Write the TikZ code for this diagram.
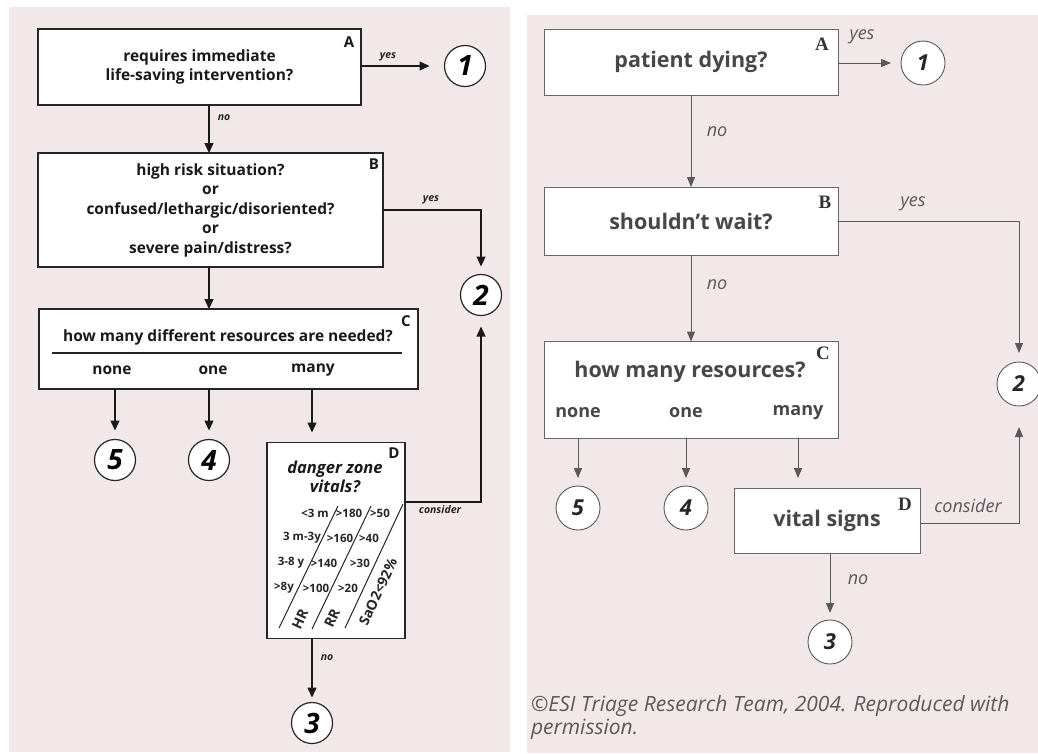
\documentclass[tikz,border=0pt]{standalone}
\usepackage{fontspec}
\setmainfont{Open Sans}
\newfontfamily\labfont{Liberation Serif}
\usetikzlibrary{arrows.meta}

\definecolor{panelbg}{RGB}{242,232,234}

\begin{document}
\begin{tikzpicture}[
	x = 1pt, y = -1pt,
	every node/.style = {inner sep = 0pt, outer sep = 0pt},
	lbox/.style = {draw = black!85, line width = 1.4pt, fill = white},
	ltext/.style = {font = \fontsize{15.5}{19.5}\selectfont\bfseries, align = center, text = black!90},
	lcap/.style = {font = \fontsize{15}{15}\selectfont\bfseries, text = black!90},
	lnote/.style = {font = \fontsize{10.5}{10.5}\selectfont\bfseries\itshape, text = black!85},
	lnum/.style = {circle, draw = black!85, line width = 1.2pt, fill = white, minimum size = 41pt, font = \fontsize{28}{28}\selectfont\bfseries\itshape},
	larr/.style = {draw = black!90, line width = 1.3pt, -{Triangle[length = 10pt, width = 9pt]}},
	lvit/.style = {font = \fontsize{11.5}{11.5}\selectfont\bfseries, text = black!85},
	lrot/.style = {font = \fontsize{14}{14}\selectfont\bfseries, text = black!85, rotate = 65},
	rbox/.style = {draw = black!60, line width = 1pt, fill = white},
	rtext/.style = {font = \fontsize{21.5}{21.5}\selectfont\bfseries, text = black!72},
	rcap/.style = {font = \labfont\fontsize{19}{19}\selectfont\bfseries, text = black!80},
	rnote/.style = {font = \fontsize{18}{18}\selectfont\itshape, text = black!65},
	rnum/.style = {circle, draw = black!65, line width = 0.9pt, fill = white, minimum size = 44pt, font = \fontsize{22}{22}\selectfont\bfseries\itshape, text = black!85},
	rarr/.style = {draw = black!65, line width = 1pt, -{Triangle[length = 10pt, width = 8pt]}}
	]

	\useasboundingbox (0,0) rectangle (1038,753);
	\fill[white] (0,0) rectangle (1038,753);
	\fill[panelbg] (9,7) rectangle (510,752);
	\fill[panelbg] (527,15) rectangle (1038,753);

	% left panel
	\node[lbox, ltext, minimum width = 323pt, minimum height = 76pt] (lA) at (199.5,67) {requires immediate\\life-saving intervention?};
	\node[lcap] (lAcap) at (349,42) {A};
	\node[lnum] (l1) at (465,66) {1};
	\node[lnote] (lAyes) at (388,57) {yes};
	\node[lnote] (lAno) at (224,118) {no};

	\node[lbox, ltext, minimum width = 345pt, minimum height = 114pt] (lB) at (210.5,210) {high risk situation?\\or\\confused/lethargic/disoriented?\\or\\severe pain/distress?};
	\node[lcap] (lBcap) at (374,164) {B};
	\node[lnum] (l2) at (481,295) {2};
	\node[lnote] (lByes) at (431,200) {yes};

	\node[lbox, minimum width = 379pt, minimum height = 80pt] (lC) at (228.5,349) {};
	\node[ltext] (lCq) at (228,337) {how many different resources are needed?};
	\node[lcap] (lCcap) at (406,321) {C};
	\node[ltext] (lnone) at (112,370) {none};
	\node[ltext] (lone) at (213,370) {one};
	\node[ltext] (lmany) at (313,370) {many};
	\draw[black!85, line width = 1.3pt] (52,353) -- (402,353);

	\node[lnum] (l5) at (115,460) {5};
	\node[lnum] (l4) at (209,460) {4};

	\node[lbox, minimum width = 138pt, minimum height = 196pt] (lD) at (336,540.5) {};
	\node[lcap] (lDcap) at (394,453) {D};
	\node[ltext, font = \fontsize{16.5}{18.5}\selectfont\bfseries\itshape] (lDq) at (335,477) {danger zone\\vitals?};
	\node[lvit] (lv11) at (315,513) {<3 m};
	\node[lvit] (lv12) at (349,513) {>180};
	\node[lvit] (lv13) at (380,513) {>50};
	\node[lvit] (lv21) at (302,538) {3 m-3y};
	\node[lvit] (lv22) at (340,538) {>160};
	\node[lvit] (lv23) at (369,538) {>40};
	\node[lvit] (lv31) at (291,563) {3-8 y};
	\node[lvit] (lv32) at (324,563) {>140};
	\node[lvit] (lv33) at (360,563) {>30};
	\node[lvit] (lv41) at (284,588) {>8y};
	\node[lvit] (lv42) at (316,588) {>100};
	\node[lvit] (lv43) at (348,588) {>20};
	\node[lrot] (lhr) at (300,619) {HR};
	\node[lrot] (lrr) at (332,618) {RR};
	\node[lrot] (lsao) at (378,592) {SaO2<92\%};
	\draw[black!85, line width = 1pt] (279,628) -- (338,506);
	\draw[black!85, line width = 1pt] (312,629) -- (371,506);
	\draw[black!85, line width = 1pt] (345,628) -- (403,504);

	\coordinate (lcons) at (406,502);
	\node[lnote] (lDcons) at (440,510) {consider};
	\node[lnum] (l3) at (312,723) {3};
	\node[lnote] (lDno) at (327,658) {no};

	\draw[larr, shorten > = 15pt] (lA.east |- l1) -- (l1);
	\draw[larr] (l4 |- lA.south) -- (l4 |- lB.north);
	\draw[larr, shorten > = 8pt] (lB.east) -| (l2);
	\draw[larr] (l4 |- lB.south) -- (l4 |- lC.north);
	\draw[larr, shorten > = 9pt] (l5 |- lC.south) -- (l5);
	\draw[larr, shorten > = 9pt] (l4 |- lC.south) -- (l4);
	\draw[larr, shorten > = 10pt] (l3 |- lC.south) -- (l3 |- lD.north);
	\draw[larr, shorten > = 11pt] (lcons) -| (l2);
	\draw[larr, shorten > = 5pt] (l3 |- lD.south) -- (l3);

	% right panel
	\node[rbox, rtext, minimum width = 294pt, minimum height = 66pt] (rA) at (691,62) {patient dying?};
	\node[rcap] (rAcap) at (822,44) {A};
	\node[rnum] (r1) at (923,63) {1};
	\node[rnote] (rAyes) at (862,37) {yes};
	\node[rnote] (rAno) at (717,132) {no};

	\node[rbox, rtext, minimum width = 294pt, minimum height = 68pt] (rB) at (691,221) {shouldn’t wait?};
	\node[rcap] (rBcap) at (825,202) {B};
	\node[rnote] (rByes) at (913,204) {yes};
	\node[rnote] (rBno) at (717,285) {no};
	\node[rnum] (r2) at (1019,384) {2};

	\node[rbox, minimum width = 294pt, minimum height = 97pt] (rC) at (691,390) {};
	\node[rtext] (rCq) at (690,372) {how many resources?};
	\node[rcap] (rCcap) at (823,353) {C};
	\node[rtext, font = \fontsize{18}{18}\selectfont\bfseries] (rnone) at (578,413) {none};
	\node[rtext, font = \fontsize{18}{18}\selectfont\bfseries] (rone) at (686,413) {one};
	\node[rtext, font = \fontsize{18}{18}\selectfont\bfseries] (rmany) at (798,413) {many};

	\node[rnum] (r5) at (578,508) {5};
	\node[rnum] (r4) at (686,508) {4};

	\node[rbox, rtext, minimum width = 186pt, minimum height = 65pt] (rD) at (827,520.5) {vital signs};
	\node[rcap] (rDcap) at (905,504) {D};
	\coordinate (rcons) at (920,523);
	\node[rnote] (rDcons) at (968,506) {consider};
	\node[rnote] (rDno) at (858,580) {no};
	\node[rnum] (r3) at (830,642) {3};

	\draw[rarr, shorten > = 10pt] (rA.east |- r1) -- (r1);
	\draw[rarr] (rA.south) -- (rB.north);
	\draw[rarr, shorten > = 9pt] (rB.east) -| (r2);
	\draw[rarr] (rB.south) -- (rC.north);
	\draw[rarr, shorten > = 8pt] (r5 |- rC.south) -- (r5);
	\draw[rarr, shorten > = 8pt] (r4 |- rC.south) -- (r4);
	\draw[rarr, shorten > = 10pt] (rmany |- rC.south) -- (rmany |- rD.north);
	\draw[rarr, shorten > = 21pt] (rcons) -| (r2);
	\draw[rarr, shorten > = 7pt] (r3 |- rD.south) -- (r3);

	\node[rnote, font = \fontsize{21}{23}\selectfont\itshape, align = left, anchor = north west] (rcopy) at (531,696) {©ESI Triage Research Team, 2004. Reproduced with\\permission.};

\end{tikzpicture}
\end{document}
